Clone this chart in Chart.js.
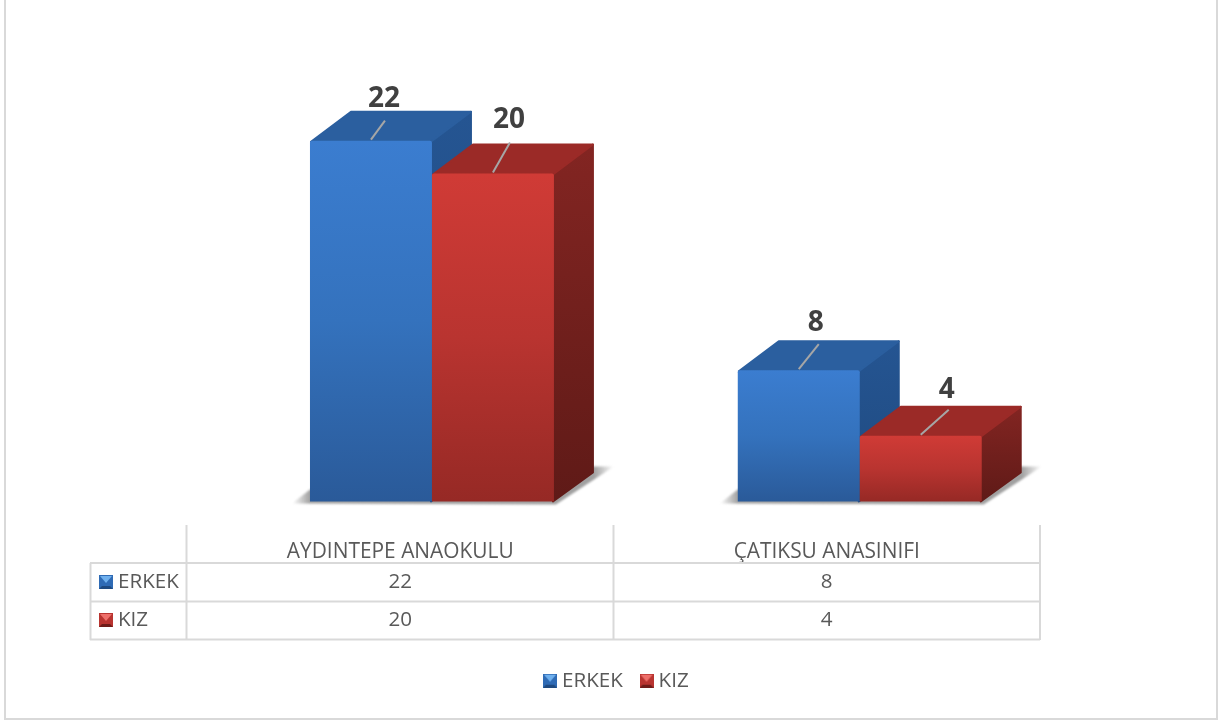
<!DOCTYPE html>
<html><head><meta charset="utf-8">
<style>html,body{margin:0;padding:0;background:#fff}canvas{display:block}</style>
<script src="https://cdn.jsdelivr.net/npm/chart.js@4"></script>
</head><body><canvas id="c" width="1227" height="722"></canvas>
<script>
const categories = ['AYDINTEPE ANAOKULU', 'ÇATIKSU ANASINIFI'];
const seriesNames = ['ERKEK', 'KIZ'];
const erkekValues = [22, 8];
const kizValues = [20, 4];

const FONT = '"Open Sans", sans-serif';
const TEXT = '#595959', GRID = '#d9d9d9';
const SHIFTS = [31.7, 33], DX = 40, DY = 30;
const palette = [
  {front: ['#3b7dd0', '#3472bd', '#2a5a99'], top: '#2b5f9f', side: ['#255592', '#1f4a80'], icon: ['#2f6bb5', '#6fb0ee', '#1f4a80']},
  {front: ['#d03b36', '#b93430', '#962925'], top: '#9b2a27', side: ['#832522', '#5f1a17'], icon: ['#b93430', '#ee6f6a', '#6f1c19']}
];
const labelOffsets = [[[13, -42], [17, -47]], [[16, -53.5], [26, -46]]];
const leaderEnds = [[[14, -19], [20, -25]], [[17, -30], [28, -25]]];

function makeIcon(p) {
  const s = 14, c = document.createElement('canvas');
  c.width = c.height = s;
  const g = c.getContext('2d');
  g.fillStyle = p.icon[0]; g.fillRect(0, 0, s, s);
  g.fillStyle = p.icon[1];
  g.beginPath(); g.moveTo(1, 1); g.lineTo(s - 1, 1); g.lineTo(s / 2, s / 2 + 1); g.closePath(); g.fill();
  g.fillStyle = p.icon[2];
  g.beginPath(); g.moveTo(0, s); g.lineTo(s, s); g.lineTo(s - 3, s - 3); g.lineTo(3, s - 3); g.closePath(); g.fill();
  return c;
}
const icons = palette.map(makeIcon);

function frontFill(ctx) {
  if (ctx.type !== 'data') return palette[ctx.datasetIndex].front[0];
  const sc = ctx.chart.scales.y;
  if (!sc || sc.top === undefined) return palette[ctx.datasetIndex].front[1];
  const g = ctx.chart.ctx.createLinearGradient(0, sc.getPixelForValue(ctx.parsed.y), 0, sc.getPixelForValue(0));
  const f = palette[ctx.datasetIndex].front;
  g.addColorStop(0, f[0]); g.addColorStop(.5, f[1]); g.addColorStop(1, f[2]);
  return g;
}

function poly(c, pts, fill) {
  c.beginPath();
  pts.forEach((p, i) => i ? c.lineTo(p[0], p[1]) : c.moveTo(p[0], p[1]));
  c.closePath();
  c.fillStyle = fill; c.strokeStyle = fill; c.lineWidth = 2; c.lineJoin = 'round';
  c.fill(); c.stroke();
}

const threeD = {
  id: 'threeD',
  afterLayout(chart) {
    chart.legend.left += 5; chart.legend.right += 5;
  },
  beforeDatasetsDraw(chart) {
    const c = chart.ctx, m0 = chart.getDatasetMeta(0).data, m1 = chart.getDatasetMeta(1).data;
    // floor shadows, one per category
    m0.forEach((bar, i) => {
      const L = bar.x - bar.width / 2 + SHIFTS[i], r = m1[i], R = r.x + r.width / 2 + SHIFTS[i], B = bar.base;
      const xa = L - 18, xb = R + DX + 20;
      const g = c.createLinearGradient(xa, 0, xb, 0);
      const w = xb - xa;
      g.addColorStop(0, 'rgba(150,150,150,0)');
      g.addColorStop(18 / w, 'rgba(150,150,150,.9)');
      g.addColorStop((R + DX - xa) / w, 'rgba(150,150,150,.9)');
      g.addColorStop(1, 'rgba(150,150,150,0)');
      c.save();
      c.filter = 'blur(1px)';
      c.beginPath();
      c.moveTo(xa, B + 2); c.lineTo(L, B - 12); c.lineTo(R + DX, B - DY - 5); c.lineTo(xb, B - DY - 5);
      c.lineTo(R + 2, B + 3); c.closePath();
      c.fillStyle = g; c.fill();
      c.restore();
    });
    // solids, first series first so the second overlaps its side face
    [0, 1].forEach(d => {
      const p = palette[d];
      chart.getDatasetMeta(d).data.forEach((bar, i) => {
        const l = bar.x - bar.width / 2, r = bar.x + bar.width / 2, t = bar.y, b = bar.base;
        c.save();
        c.translate(SHIFTS[i], 0);
        const g = c.createLinearGradient(0, t - DY, 0, b);
        g.addColorStop(0, p.side[0]); g.addColorStop(1, p.side[1]);
        poly(c, [[r - 1, t + 1], [r + DX - 1, t - DY + 1], [r + DX - 1, b - DY + 1], [r - 1, b]], g);
        poly(c, [[l + 1, t + 1], [l + DX + 1, t - DY + 1], [r + DX - 1, t - DY + 1], [r - 1, t + 1]], p.top);
        bar.draw(c);
        c.restore();
      });
    });
  },
  beforeDatasetDraw() { return false; },
  afterDatasetsDraw(chart) {
    const c = chart.ctx;
    chart.data.datasets.forEach((ds, d) => {
      chart.getDatasetMeta(d).data.forEach((bar, i) => {
        const oy = bar.y, e = leaderEnds[d][i], o = labelOffsets[d][i];
        const cx = bar.x + SHIFTS[i];
        c.strokeStyle = '#a6a6a6'; c.lineWidth = 2;
        c.beginPath(); c.moveTo(cx, oy - 1); c.lineTo(cx + e[0], oy - 1 + e[1]); c.stroke();
        c.fillStyle = '#404040';
        c.font = 'bold 28px ' + FONT;
        c.textAlign = 'center'; c.textBaseline = 'middle';
        c.fillText(String(ds.data[i]), cx + o[0], oy + o[1]);
      });
    });
  },
  afterDraw(chart) {
    const c = chart.ctx, xs = chart.scales.x;
    const lines = [[90, 563, 1040, 563], [90, 601.5, 1040, 601.5], [90, 639.5, 1040, 639.5],
      [90.5, 563, 90.5, 640], [xs.left - .5, 525, xs.left - .5, 640],
      [613.5, 525, 613.5, 640], [xs.right, 525, xs.right, 640]];
    c.strokeStyle = GRID; c.lineWidth = 2;
    lines.forEach(l => { c.beginPath(); c.moveTo(l[0], l[1]); c.lineTo(l[2], l[3]); c.stroke(); });
    const rows = [erkekValues, kizValues], ys = [582, 620];
    c.font = '20.6px ' + FONT; c.fillStyle = TEXT; c.textBaseline = 'middle';
    rows.forEach((vals, r) => {
      c.drawImage(icons[r], 99, ys[r] - 7);
      c.textAlign = 'left';
      c.fillStyle = TEXT;
      c.fillText(seriesNames[r], 118, ys[r]);
      c.textAlign = 'center';
      vals.forEach((v, i) => c.fillText(String(v), xs.getPixelForValue(i), ys[r]));
    });
  }
};

new Chart(document.getElementById('c'), {
  type: 'bar',
  plugins: [threeD, {
    id: 'frame',
    beforeDraw(chart) {
      const c = chart.ctx;
      c.fillStyle = '#fff'; c.fillRect(0, 0, 1227, 722);
      c.strokeStyle = GRID; c.lineWidth = 2;
      c.strokeRect(5, -4, 1212, 723);
    }
  }],
  data: {
    labels: categories,
    datasets: [
      {label: seriesNames[0], data: erkekValues, backgroundColor: frontFill, pointStyle: icons[0], borderRadius: {topLeft: 2, topRight: 2}, borderSkipped: false},
      {label: seriesNames[1], data: kizValues, backgroundColor: frontFill, pointStyle: icons[1], borderRadius: {topLeft: 2, topRight: 2}, borderSkipped: false}
    ]
  },
  options: {
    responsive: false,
    animation: false,
    layout: {padding: {left: 187, right: 187, top: 91.5, bottom: 21}},
    datasets: {bar: {categoryPercentage: 0.572, barPercentage: 1}},
    plugins: {
      tooltip: {enabled: false},
      legend: {
        position: 'bottom',
        labels: {usePointStyle: true, pointStyleWidth: 3.4, font: {family: FONT, size: 20.6}, color: TEXT, padding: 22, boxHeight: 14}
      }
    },
    scales: {
      y: {display: false, min: 0, max: 25},
      x: {
        grid: {display: false}, border: {display: false},
        ticks: {color: TEXT, font: {family: FONT, size: 20.9}, padding: 30, maxRotation: 0, autoSkip: false},
        afterFit(s) { s.height = 147; }
      }
    }
  }
});
</script></body></html>
